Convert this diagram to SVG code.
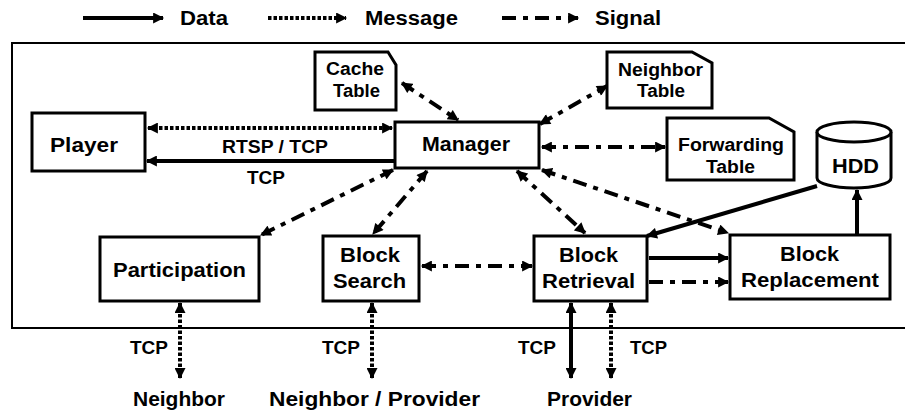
<svg xmlns="http://www.w3.org/2000/svg" width="905" height="412" viewBox="0 0 905 412">
  <defs>
    <marker id="head" viewBox="0 0 10 10" refX="9" refY="5" markerWidth="12" markerHeight="11" markerUnits="userSpaceOnUse" orient="auto-start-reverse">
      <path d="M0,0 L10,5 L0,10 z" fill="#000"/>
    </marker>
    <style>
      text { font-family: "Liberation Sans", Arial, sans-serif; font-weight: bold; fill: #000; }
      .big { font-size: 21px; }
      .mid { font-size: 18px; }
      .leg { font-size: 20px; }
      .box { fill: #fff; stroke: #000; stroke-width: 3; }
      .frame { fill: none; stroke: #000; stroke-width: 2; }
      .data { fill: none; stroke: #000; stroke-width: 4; }
      .msg { fill: none; stroke: #000; stroke-width: 4; stroke-dasharray: 3.5 2; }
      .sig { fill: none; stroke: #000; stroke-width: 4; stroke-dasharray: 14 7 5 7; }
      .two { marker-start: url(#head); marker-end: url(#head); }
      .one { marker-end: url(#head); }
    </style>
  </defs>

  <!-- legend -->
  <g id="legend">
    <line class="data one" x1="83" y1="18" x2="163" y2="18"/>
    <text class="leg" x="180" y="25" textLength="48" lengthAdjust="spacingAndGlyphs">Data</text>
    <line class="msg one" x1="268" y1="18" x2="346" y2="18"/>
    <text class="leg" x="365" y="25" textLength="93" lengthAdjust="spacingAndGlyphs">Message</text>
    <line class="sig one" x1="502" y1="18" x2="578" y2="18"/>
    <text class="leg" x="595" y="25" textLength="66" lengthAdjust="spacingAndGlyphs">Signal</text>
  </g>

  <!-- system boundary -->
  <rect class="frame" x="12" y="43" width="900" height="285"/>

  <!-- connectors -->
  <g id="connectors">
    <line class="msg two" x1="148" y1="128" x2="392" y2="128"/>
    <line class="data one" x1="395" y1="161" x2="147" y2="161"/>
    <line class="sig two" x1="402" y1="83" x2="458" y2="120"/>
    <line class="sig two" x1="540" y1="124" x2="607" y2="86"/>
    <line class="sig two" x1="542" y1="147" x2="665" y2="147"/>
    <line class="sig two" x1="393" y1="170" x2="261" y2="235"/>
    <line class="sig two" x1="427" y1="171" x2="373" y2="234"/>
    <line class="sig two" x1="517" y1="171" x2="585" y2="233"/>
    <line class="sig two" x1="542" y1="170" x2="728" y2="233"/>
    <line class="data one" x1="817" y1="186" x2="647" y2="236"/>
    <line class="data one" x1="857" y1="234" x2="857" y2="190"/>
    <line class="data one" x1="649" y1="258" x2="728" y2="258"/>
    <line class="sig one" x1="649" y1="282" x2="728" y2="282"/>
    <line class="sig two" x1="422" y1="266" x2="532" y2="266"/>
    <line class="msg two" x1="180" y1="303" x2="180" y2="378"/>
    <line class="msg two" x1="372" y1="303" x2="372" y2="378"/>
    <line class="data two" x1="571" y1="303" x2="571" y2="378"/>
    <line class="msg two" x1="611" y1="303" x2="611" y2="378"/>
    <text class="mid" x="222" y="153" textLength="106" lengthAdjust="spacingAndGlyphs">RTSP / TCP</text>
    <text class="mid" x="247" y="184" textLength="38" lengthAdjust="spacingAndGlyphs">TCP</text>
    <text class="mid" x="130" y="354" textLength="38" lengthAdjust="spacingAndGlyphs">TCP</text>
    <text class="mid" x="322" y="354" textLength="38" lengthAdjust="spacingAndGlyphs">TCP</text>
    <text class="mid" x="518" y="354" textLength="38" lengthAdjust="spacingAndGlyphs">TCP</text>
    <text class="mid" x="630" y="354" textLength="37" lengthAdjust="spacingAndGlyphs">TCP</text>
  </g>

  <g id="player">
    <rect class="box" x="32" y="113" width="113" height="58"/>
    <text class="big" x="50" y="152" textLength="68" lengthAdjust="spacingAndGlyphs">Player</text>
  </g>

  <g id="manager">
    <rect class="box" x="395" y="122" width="144" height="46"/>
    <text class="big" x="422" y="151" textLength="88" lengthAdjust="spacingAndGlyphs">Manager</text>
  </g>

  <g id="cache-table">
    <path class="box" d="M315,52 H388 L396,65 V110 H315 Z"/>
    <text class="mid" x="326" y="75" textLength="58" lengthAdjust="spacingAndGlyphs">Cache</text>
    <text class="mid" x="333" y="97" textLength="47" lengthAdjust="spacingAndGlyphs">Table</text>
  </g>

  <g id="neighbor-table">
    <path class="box" d="M607,52 H692 L712,63 V108 H607 Z"/>
    <text class="mid" x="618" y="76" textLength="85" lengthAdjust="spacingAndGlyphs">Neighbor</text>
    <text class="mid" x="637" y="97" textLength="48" lengthAdjust="spacingAndGlyphs">Table</text>
  </g>

  <g id="forwarding-table">
    <path class="box" d="M667,118 H769 L794,132 V180 H667 Z"/>
    <text class="mid" x="678" y="151" textLength="106" lengthAdjust="spacingAndGlyphs">Forwarding</text>
    <text class="mid" x="706" y="173" textLength="49" lengthAdjust="spacingAndGlyphs">Table</text>
  </g>

  <g id="hdd">
    <path class="box" d="M817,132 V178 A37,10 0 0 0 891,178 V132"/>
    <ellipse class="box" cx="854" cy="132" rx="37" ry="10"/>
    <text class="big" x="832" y="173" textLength="47" lengthAdjust="spacingAndGlyphs">HDD</text>
  </g>

  <g id="participation">
    <rect class="box" x="100" y="237" width="159" height="64"/>
    <text class="big" x="113" y="277" textLength="133" lengthAdjust="spacingAndGlyphs">Participation</text>
  </g>

  <g id="block-search">
    <rect class="box" x="323" y="236" width="96" height="65"/>
    <text class="big" x="340" y="262" textLength="60" lengthAdjust="spacingAndGlyphs">Block</text>
    <text class="big" x="333" y="288" textLength="73" lengthAdjust="spacingAndGlyphs">Search</text>
  </g>

  <g id="block-retrieval">
    <rect class="box" x="534" y="236" width="113" height="65"/>
    <text class="big" x="559" y="262" textLength="59" lengthAdjust="spacingAndGlyphs">Block</text>
    <text class="big" x="542" y="288" textLength="93" lengthAdjust="spacingAndGlyphs">Retrieval</text>
  </g>

  <g id="block-replacement">
    <rect class="box" x="730" y="235" width="160" height="64"/>
    <text class="big" x="780" y="261" textLength="59" lengthAdjust="spacingAndGlyphs">Block</text>
    <text class="big" x="741" y="287" textLength="138" lengthAdjust="spacingAndGlyphs">Replacement</text>
  </g>

  <g id="neighbor">
    <text class="big" x="133" y="406" textLength="92" lengthAdjust="spacingAndGlyphs">Neighbor</text>
  </g>
  <g id="neighbor-provider">
    <text class="big" x="269" y="406" textLength="211" lengthAdjust="spacingAndGlyphs">Neighbor / Provider</text>
  </g>
  <g id="provider">
    <text class="big" x="547" y="406" textLength="85" lengthAdjust="spacingAndGlyphs">Provider</text>
  </g>
</svg>
